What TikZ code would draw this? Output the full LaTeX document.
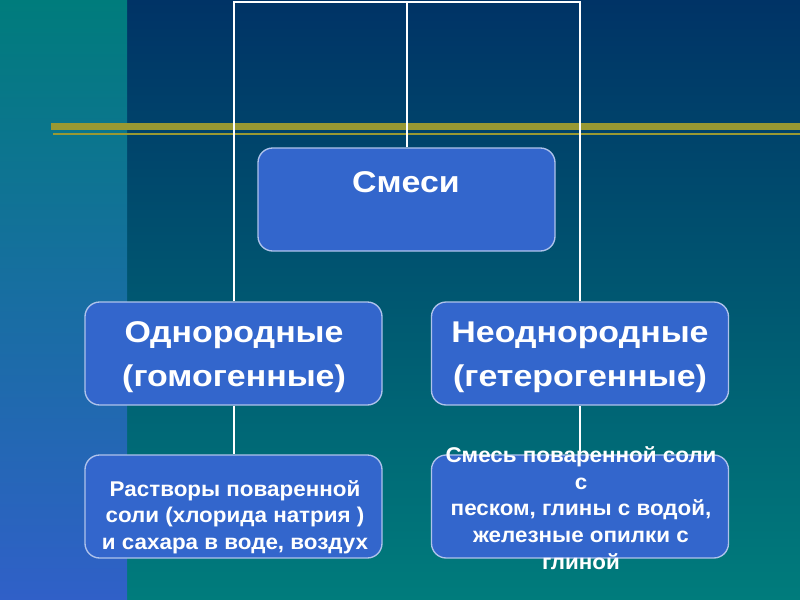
\documentclass[tikz,border=0pt]{standalone}
\usepackage{fontspec}
\setmainfont{Liberation Sans}
\begin{document}
\begin{tikzpicture}[x=0.75pt,y=-0.75pt]
\definecolor{navyc}{RGB}{0,51,102}
\definecolor{tealc}{RGB}{0,124,124}
\definecolor{blueb}{RGB}{48,96,200}
\definecolor{boxc}{RGB}{51,102,204}
\definecolor{goldc}{RGB}{153,153,51}
\definecolor{edgec}{RGB}{175,195,235}
\tikzset{
  box/.style={draw=edgec, line width=1pt, fill=boxc, rounded corners=11pt,
    minimum width=222.75pt, minimum height=77.25pt, inner sep=0pt},
  txt/.style={text=white, align=center, inner sep=0pt},
  bigtxt/.style={txt, font=\fontsize{22.5}{33}\bfseries\addfontfeatures{FakeStretch=1.13}},
  smalltxt/.style={txt, font=\fontsize{16}{20}\bfseries\addfontfeatures{FakeStretch=#1}},
  conn/.style={draw=white, line width=1.5pt}
}
\useasboundingbox (0,0) rectangle (800,600);
\shade[top color=navyc, bottom color=tealc] (127,0) rectangle (800,600);
\shade[top color=tealc, bottom color=blueb] (0,0) rectangle (127,600);
\fill[goldc] (51,123) rectangle (800,130);
\fill[goldc] (53,132.5) rectangle (800,134.5);

\node[box] (smesi) at (406.5,199.5) {};
\node[box] (odn) at (233.5,353.5) {};
\node[box] (neodn) at (580,353.5) {};
\node[box] (rastv) at (233.5,506.5) {};
\node[box] (smes) at (580,506.5) {};

\node[bigtxt, anchor=base] (smesitxt) at (406,192) {Смеси};
\node[bigtxt] (odntxt) at (234,357) {Однородные\\(гомогенные)};
\node[bigtxt] (neodntxt) at (580,357) {Неоднородные\\(гетерогенные)};
\node[smalltxt=1.05] (rastvtxt) at (235,517) {Растворы поваренной\\соли (хлорида натрия )\\ и сахара в воде, воздух};
\node[smalltxt=1.05] (smestxt) at (581,508) {Смесь поваренной соли\\с\\песком, глины с водой,\\ железные опилки с\\глиной};

\coordinate (topc) at (405,1.5);
\draw[conn] (odn.north) -- (odn.north |- topc) -- (neodn.north |- topc) -- (neodn.north);
\draw[conn] (smesi.north) -- (smesi.north |- topc);
\draw[conn] (odn.south) -- (rastv.north);
\draw[conn] (neodn.south) -- (smes.north);
\end{tikzpicture}
\end{document}
